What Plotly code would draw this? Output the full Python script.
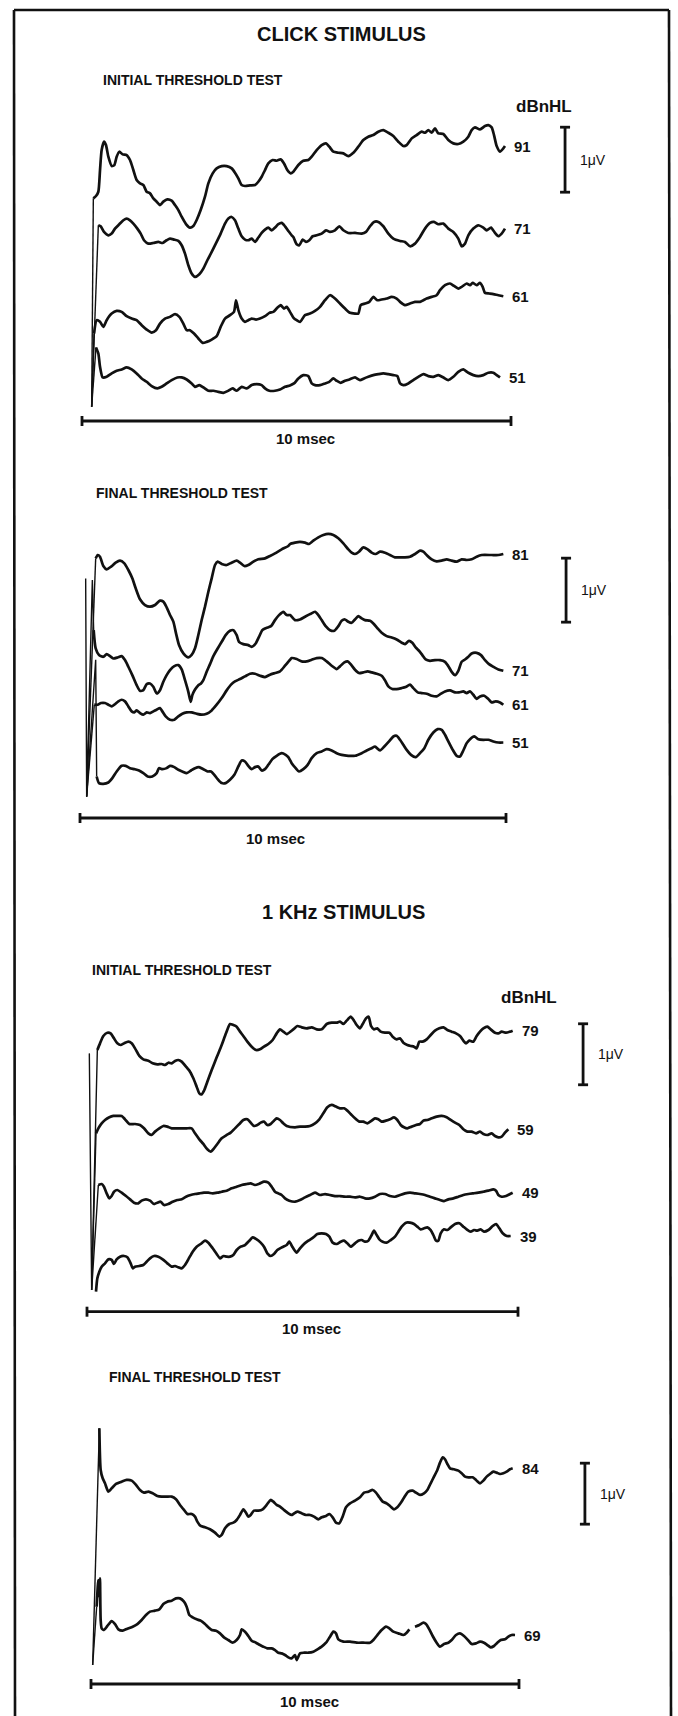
import plotly.graph_objects as go

# ---------------------------------------------------------------- data
# Each waveform: (time in msec, amplitude in microvolts relative to trace baseline)

# CLICK STIMULUS - INITIAL THRESHOLD TEST
click_init_levels = ["91", "71", "61", "51"]
click_init_offsets = [4.23, 2.96, 1.92, 0.67]
click_init_art = [1, 1, 1, 1]
click_init_91 = [(0.225,-4.01),(0.264,-0.805),(0.326,-0.769),(0.381,-0.703),(0.420,-0.369),(0.458,-0.062),(0.513,0.067),(0.559,0.015),(0.614,-0.164),(0.692,-0.308),(0.754,-0.292),(0.808,-0.164),(0.870,-0.087),(0.948,-0.128),(1.041,-0.138),(1.119,-0.215),(1.197,-0.369),(1.274,-0.523),(1.352,-0.574),(1.430,-0.600),(1.507,-0.703),(1.585,-0.728),(1.663,-0.805),(1.740,-0.856),(1.818,-0.908),(1.896,-0.856),(1.989,-0.821),(2.090,-0.841),(2.168,-0.908),(2.246,-0.985),(2.323,-1.087),(2.424,-1.200),(2.517,-1.256),(2.595,-1.231),(2.673,-1.138),(2.766,-0.985),(2.867,-0.779),(2.945,-0.574),(3.046,-0.421),(3.139,-0.344),(3.256,-0.308),(3.372,-0.308),(3.489,-0.344),(3.566,-0.410),(3.644,-0.497),(3.722,-0.600),(3.800,-0.615),(3.916,-0.605),(4.033,-0.600),(4.110,-0.549),(4.188,-0.472),(4.266,-0.369),(4.343,-0.267),(4.444,-0.215),(4.538,-0.226),(4.631,-0.205),(4.709,-0.267),(4.786,-0.369),(4.864,-0.421),(4.926,-0.395),(5.043,-0.292),(5.159,-0.226),(5.276,-0.215),(5.354,-0.164),(5.470,-0.062),(5.587,0.015),(5.688,0.041),(5.765,-0.010),(5.859,-0.087),(5.975,-0.103),(6.092,-0.113),(6.208,-0.154),(6.325,-0.103),(6.441,-0.010),(6.558,0.092),(6.674,0.144),(6.791,0.169),(6.907,0.221),(7.024,0.246),(7.141,0.205),(7.257,0.154),(7.374,0.067),(7.490,0.000),(7.568,0.015),(7.685,0.118),(7.801,0.169),(7.918,0.221),(7.995,0.205),(8.073,0.246),(8.151,0.205),(8.228,0.272),(8.306,0.195),(8.423,0.185),(8.539,0.092),(8.656,0.041),(8.772,0.031),(8.889,0.067),(9.005,0.144),(9.083,0.246),(9.161,0.287),(9.277,0.256),(9.394,0.308),(9.471,0.323),(9.549,0.287),(9.604,0.169),(9.666,0.000),(9.744,-0.087),(9.821,-0.036),(9.860,0.000)]
click_init_71 = [(0.225,-2.74),(0.381,0.051),(0.435,0.036),(0.513,-0.051),(0.614,-0.103),(0.692,-0.077),(0.769,0.0),(0.870,0.067),(0.964,0.128),(1.041,0.154),(1.119,0.128),(1.197,0.077),(1.290,0.0),(1.368,-0.077),(1.445,-0.179),(1.546,-0.231),(1.663,-0.221),(1.779,-0.205),(1.880,-0.221),(1.974,-0.179),(2.051,-0.154),(2.145,-0.169),(2.246,-0.190),(2.323,-0.256),(2.401,-0.385),(2.479,-0.564),(2.556,-0.692),(2.634,-0.744),(2.735,-0.703),(2.828,-0.615),(2.922,-0.487),(3.023,-0.359),(3.139,-0.205),(3.232,-0.077),(3.333,0.077),(3.411,0.154),(3.489,0.179),(3.566,0.128),(3.644,0.0),(3.722,-0.118),(3.800,-0.169),(3.877,-0.179),(3.955,-0.154),(4.033,-0.205),(4.110,-0.138),(4.188,-0.067),(4.266,-0.015),(4.343,0.015),(4.421,-0.026),(4.499,0.015),(4.577,0.067),(4.654,0.087),(4.732,0.036),(4.810,-0.036),(4.887,-0.103),(4.926,-0.128),(5.004,-0.241),(5.066,-0.256),(5.144,-0.169),(5.222,-0.205),(5.299,-0.179),(5.377,-0.118),(5.470,-0.103),(5.587,-0.077),(5.688,-0.026),(5.781,-0.051),(5.897,-0.026),(5.998,0.036),(6.092,-0.026),(6.208,-0.067),(6.364,-0.067),(6.519,-0.077),(6.620,-0.051),(6.713,0.036),(6.807,0.103),(6.908,0.103),(7.024,0.036),(7.141,-0.077),(7.257,-0.154),(7.413,-0.190),(7.529,-0.205),(7.646,-0.272),(7.762,-0.231),(7.879,-0.128),(7.995,0.0),(8.112,0.087),(8.205,0.103),(8.306,0.067),(8.423,0.077),(8.539,0.0),(8.656,-0.051),(8.772,-0.154),(8.850,-0.272),(8.928,-0.231),(9.005,-0.103),(9.122,0.0),(9.238,0.051),(9.355,0.015),(9.433,-0.026),(9.534,0.015),(9.627,-0.067),(9.705,-0.118),(9.782,-0.077),(9.860,0.0)]
click_init_61 = [(0.225,-1.703),(0.280,-0.574),(0.342,-0.369),(0.420,-0.395),(0.497,-0.472),(0.575,-0.369),(0.692,-0.267),(0.808,-0.226),(0.925,-0.241),(1.041,-0.308),(1.158,-0.344),(1.274,-0.369),(1.391,-0.446),(1.507,-0.513),(1.624,-0.559),(1.725,-0.523),(1.818,-0.421),(1.935,-0.344),(2.051,-0.318),(2.168,-0.277),(2.269,-0.318),(2.362,-0.421),(2.440,-0.523),(2.517,-0.523),(2.611,-0.574),(2.712,-0.651),(2.813,-0.718),(2.906,-0.703),(3.023,-0.667),(3.139,-0.615),(3.232,-0.472),(3.333,-0.344),(3.450,-0.292),(3.543,-0.241),(3.590,-0.062),(3.644,-0.215),(3.722,-0.344),(3.800,-0.395),(3.877,-0.369),(3.955,-0.344),(4.056,-0.359),(4.149,-0.344),(4.266,-0.308),(4.367,-0.256),(4.460,-0.241),(4.553,-0.179),(4.631,-0.138),(4.709,-0.190),(4.771,-0.164),(4.848,-0.241),(4.926,-0.328),(5.004,-0.369),(5.082,-0.395),(5.198,-0.292),(5.315,-0.267),(5.431,-0.226),(5.548,-0.164),(5.664,-0.062),(5.781,0.015),(5.897,-0.036),(6.014,-0.113),(6.131,-0.190),(6.247,-0.256),(6.364,-0.267),(6.441,-0.267),(6.496,-0.138),(6.597,-0.113),(6.698,-0.087),(6.791,-0.010),(6.884,-0.062),(6.985,-0.051),(7.102,-0.036),(7.218,-0.010),(7.335,-0.036),(7.413,-0.087),(7.529,-0.138),(7.646,-0.113),(7.762,-0.087),(7.879,-0.087),(7.957,-0.062),(8.034,-0.036),(8.151,-0.010),(8.267,0.015),(8.345,0.092),(8.462,0.169),(8.578,0.195),(8.671,0.159),(8.772,0.118),(8.850,0.144),(8.967,0.195),(9.044,0.169),(9.106,0.205),(9.200,0.169),(9.277,0.205),(9.340,0.144),(9.394,0.051),(9.495,0.041),(9.588,0.031),(9.705,0.015),(9.821,0.000)]
click_init_51 = [(0.225,-0.451),(0.326,0.462),(0.381,0.369),(0.420,0.164),(0.482,0.000),(0.575,0.010),(0.692,0.062),(0.808,0.103),(0.925,0.123),(1.041,0.154),(1.158,0.123),(1.274,0.062),(1.391,-0.015),(1.507,-0.067),(1.624,-0.133),(1.756,-0.169),(1.857,-0.144),(1.974,-0.092),(2.090,-0.041),(2.222,0.000),(2.323,0.000),(2.440,-0.031),(2.556,-0.092),(2.634,-0.144),(2.735,-0.118),(2.828,-0.154),(2.945,-0.205),(3.062,-0.205),(3.178,-0.221),(3.295,-0.236),(3.411,-0.205),(3.512,-0.169),(3.605,-0.205),(3.722,-0.144),(3.838,-0.169),(3.955,-0.118),(4.071,-0.103),(4.188,-0.118),(4.266,-0.169),(4.367,-0.205),(4.499,-0.205),(4.615,-0.185),(4.732,-0.144),(4.848,-0.123),(4.942,-0.092),(5.043,-0.015),(5.159,0.036),(5.276,0.021),(5.354,-0.092),(5.431,-0.118),(5.548,-0.118),(5.664,-0.092),(5.765,-0.067),(5.859,-0.015),(5.936,-0.051),(6.030,-0.082),(6.131,-0.051),(6.232,-0.031),(6.364,0.000),(6.480,-0.041),(6.574,-0.015),(6.674,0.010),(6.791,0.036),(6.907,0.051),(7.024,0.062),(7.141,0.051),(7.257,0.036),(7.351,0.021),(7.413,-0.092),(7.490,-0.118),(7.607,-0.092),(7.724,-0.041),(7.840,0.010),(7.957,0.051),(8.073,0.021),(8.190,0.010),(8.306,0.036),(8.423,0.000),(8.539,-0.041),(8.656,0.010),(8.772,0.087),(8.889,0.123),(9.005,0.072),(9.122,0.036),(9.238,0.021),(9.355,0.036),(9.471,0.072),(9.588,0.072),(9.666,0.036),(9.744,0.000)]

# CLICK STIMULUS - FINAL THRESHOLD TEST
click_final_levels = ["81", "71", "61", "51"]
click_final_offsets = [4.125, 2.30, 1.77, 1.18]
click_final_art = [1, 3, 1, 2]
click_final_81 = [(0.156,-3.792),(0.368,-0.068),(0.415,-0.016),(0.469,-0.042),(0.548,-0.188),(0.626,-0.240),(0.728,-0.198),(0.837,-0.135),(0.939,-0.104),(1.041,-0.146),(1.135,-0.250),(1.228,-0.380),(1.307,-0.536),(1.408,-0.708),(1.526,-0.797),(1.643,-0.823),(1.761,-0.797),(1.878,-0.729),(1.956,-0.745),(2.034,-0.833),(2.113,-0.953),(2.191,-1.057),(2.254,-1.240),(2.324,-1.422),(2.426,-1.552),(2.543,-1.615),(2.621,-1.578),(2.700,-1.474),(2.778,-1.266),(2.856,-1.031),(2.934,-0.823),(3.013,-0.589),(3.091,-0.380),(3.169,-0.172),(3.232,-0.120),(3.326,-0.156),(3.443,-0.172),(3.560,-0.135),(3.678,-0.104),(3.756,-0.135),(3.858,-0.188),(3.951,-0.172),(4.069,-0.120),(4.186,-0.083),(4.343,-0.068),(4.460,-0.031),(4.577,0.010),(4.734,0.073),(4.890,0.125),(4.930,0.156),(5.047,0.177),(5.164,0.188),(5.282,0.177),(5.376,0.156),(5.477,0.208),(5.595,0.260),(5.712,0.297),(5.829,0.313),(5.947,0.297),(6.064,0.245),(6.182,0.167),(6.299,0.073),(6.377,0.021),(6.455,0.000),(6.549,0.036),(6.651,0.104),(6.753,0.073),(6.847,0.021),(6.941,0.000),(7.042,0.036),(7.160,0.021),(7.277,-0.016),(7.394,-0.052),(7.512,-0.052),(7.629,-0.052),(7.746,-0.042),(7.864,0.000),(7.981,0.052),(8.059,0.036),(8.138,-0.016),(8.255,-0.083),(8.372,-0.115),(8.490,-0.104),(8.607,-0.083),(8.725,-0.104),(8.842,-0.120),(8.959,-0.083),(9.077,-0.094),(9.194,-0.083),(9.311,-0.042),(9.429,-0.016),(9.663,-0.016),(9.820,-0.016),(9.937,0.000)]
click_final_71 = [(0.133,1.443),(0.156,-1.969),(0.290,1.417),(0.321,0.635),(0.368,0.349),(0.446,0.245),(0.548,0.219),(0.626,0.260),(0.704,0.229),(0.782,0.193),(0.884,0.208),(0.978,0.229),(1.056,0.167),(1.135,0.063),(1.228,-0.068),(1.330,-0.224),(1.408,-0.313),(1.487,-0.302),(1.565,-0.208),(1.643,-0.198),(1.721,-0.250),(1.800,-0.354),(1.878,-0.302),(1.956,-0.172),(2.034,-0.068),(2.113,0.010),(2.214,0.073),(2.308,0.089),(2.387,0.021),(2.465,-0.146),(2.543,-0.328),(2.598,-0.484),(2.637,-0.380),(2.700,-0.292),(2.778,-0.224),(2.840,-0.198),(2.895,-0.146),(2.973,-0.016),(3.052,0.104),(3.130,0.229),(3.232,0.349),(3.326,0.453),(3.419,0.557),(3.521,0.625),(3.599,0.635),(3.678,0.557),(3.732,0.453),(3.834,0.417),(3.951,0.401),(4.030,0.375),(4.124,0.427),(4.202,0.531),(4.280,0.635),(4.343,0.661),(4.405,0.677),(4.484,0.698),(4.577,0.792),(4.671,0.870),(4.773,0.922),(4.851,0.870),(4.930,0.870),(5.047,0.792),(5.164,0.802),(5.282,0.844),(5.399,0.885),(5.517,0.922),(5.595,0.870),(5.673,0.792),(5.767,0.698),(5.869,0.635),(5.970,0.625),(6.064,0.698),(6.142,0.781),(6.221,0.802),(6.299,0.766),(6.377,0.750),(6.455,0.802),(6.534,0.854),(6.612,0.818),(6.690,0.792),(6.808,0.781),(6.886,0.740),(6.987,0.661),(7.081,0.594),(7.199,0.542),(7.316,0.521),(7.433,0.490),(7.551,0.438),(7.629,0.417),(7.723,0.469),(7.801,0.438),(7.879,0.365),(7.958,0.313),(8.036,0.245),(8.114,0.177),(8.216,0.156),(8.333,0.167),(8.451,0.167),(8.568,0.141),(8.646,0.073),(8.725,-0.016),(8.803,-0.068),(8.881,0.000),(8.959,0.141),(9.038,0.177),(9.116,0.219),(9.194,0.271),(9.311,0.281),(9.413,0.245),(9.507,0.167),(9.601,0.104),(9.703,0.063),(9.820,0.021),(9.937,0.000)]
click_final_61 = [(0.156,-1.432),(0.336,0.000),(0.415,0.000),(0.493,0.026),(0.587,0.026),(0.665,0.000),(0.743,-0.026),(0.806,0.000),(0.900,0.052),(0.978,0.078),(1.056,0.052),(1.135,-0.026),(1.213,-0.104),(1.275,-0.120),(1.330,-0.089),(1.408,-0.130),(1.487,-0.156),(1.565,-0.120),(1.643,-0.130),(1.721,-0.104),(1.800,-0.078),(1.878,-0.052),(1.933,-0.104),(2.011,-0.182),(2.113,-0.234),(2.214,-0.234),(2.308,-0.182),(2.402,-0.141),(2.504,-0.120),(2.621,-0.120),(2.739,-0.141),(2.856,-0.156),(2.973,-0.141),(3.091,-0.089),(3.208,0.000),(3.326,0.104),(3.443,0.224),(3.545,0.313),(3.638,0.365),(3.756,0.401),(3.873,0.443),(3.991,0.484),(4.108,0.484),(4.225,0.453),(4.343,0.432),(4.460,0.469),(4.577,0.495),(4.695,0.521),(4.812,0.609),(4.930,0.703),(4.969,0.729),(5.086,0.714),(5.203,0.677),(5.321,0.677),(5.438,0.703),(5.556,0.729),(5.673,0.729),(5.790,0.677),(5.908,0.609),(6.025,0.557),(6.103,0.599),(6.205,0.661),(6.283,0.677),(6.362,0.625),(6.455,0.547),(6.549,0.495),(6.651,0.505),(6.753,0.521),(6.847,0.505),(6.964,0.484),(7.081,0.453),(7.160,0.380),(7.238,0.286),(7.332,0.245),(7.433,0.245),(7.551,0.260),(7.645,0.276),(7.746,0.313),(7.825,0.260),(7.927,0.193),(8.020,0.182),(8.138,0.172),(8.255,0.141),(8.372,0.130),(8.474,0.172),(8.568,0.208),(8.685,0.224),(8.803,0.193),(8.897,0.193),(8.998,0.208),(9.077,0.182),(9.155,0.208),(9.233,0.156),(9.311,0.089),(9.390,0.130),(9.491,0.141),(9.585,0.089),(9.663,0.036),(9.757,0.052),(9.859,0.036),(9.937,0.000)]
click_final_51 = [(0.156,-0.844),(0.368,1.292),(0.391,-0.531),(0.446,-0.635),(0.548,-0.646),(0.665,-0.625),(0.759,-0.557),(0.861,-0.453),(0.978,-0.365),(1.072,-0.365),(1.174,-0.401),(1.275,-0.417),(1.385,-0.438),(1.487,-0.479),(1.588,-0.531),(1.698,-0.531),(1.800,-0.479),(1.854,-0.401),(1.933,-0.417),(2.034,-0.401),(2.113,-0.365),(2.214,-0.385),(2.308,-0.427),(2.402,-0.453),(2.504,-0.479),(2.606,-0.438),(2.700,-0.401),(2.793,-0.385),(2.895,-0.417),(2.997,-0.453),(3.075,-0.453),(3.153,-0.505),(3.232,-0.573),(3.326,-0.635),(3.419,-0.635),(3.521,-0.583),(3.623,-0.505),(3.717,-0.375),(3.795,-0.281),(3.873,-0.297),(3.951,-0.365),(4.030,-0.417),(4.108,-0.385),(4.186,-0.375),(4.264,-0.438),(4.343,-0.417),(4.421,-0.349),(4.515,-0.260),(4.617,-0.208),(4.734,-0.167),(4.828,-0.193),(4.890,-0.229),(4.969,-0.323),(5.063,-0.401),(5.141,-0.453),(5.243,-0.417),(5.344,-0.349),(5.438,-0.245),(5.556,-0.167),(5.673,-0.141),(5.790,-0.104),(5.908,-0.125),(6.025,-0.167),(6.143,-0.193),(6.299,-0.208),(6.455,-0.208),(6.612,-0.167),(6.729,-0.125),(6.847,-0.089),(6.925,-0.063),(7.042,-0.125),(7.144,-0.063),(7.254,0.016),(7.355,0.094),(7.433,0.104),(7.512,0.042),(7.590,-0.036),(7.668,-0.115),(7.770,-0.193),(7.879,-0.229),(7.981,-0.167),(8.083,-0.089),(8.177,0.042),(8.294,0.156),(8.396,0.208),(8.490,0.198),(8.568,0.120),(8.646,0.016),(8.740,-0.104),(8.842,-0.208),(8.920,-0.219),(8.998,-0.125),(9.077,-0.010),(9.155,0.052),(9.256,0.094),(9.350,0.052),(9.468,0.042),(9.585,0.042),(9.703,0.016),(9.820,0.000),(9.937,0.000)]

# 1 KHz STIMULUS - INITIAL THRESHOLD TEST
khz_init_levels = ["79", "59", "49", "39"]
khz_init_offsets = [4.607, 2.990, 1.951, 1.241]
khz_init_art = [2, 1, 1, 0]
khz_init_79 = [(0.054,-0.372),(0.108,-4.251),(0.240,-0.317),(0.302,-0.208),(0.379,-0.087),(0.472,-0.033),(0.549,-0.044),(0.626,-0.126),(0.704,-0.208),(0.781,-0.235),(0.858,-0.208),(0.959,-0.180),(1.036,-0.208),(1.114,-0.290),(1.214,-0.415),(1.307,-0.470),(1.423,-0.492),(1.524,-0.536),(1.632,-0.552),(1.732,-0.546),(1.810,-0.563),(1.887,-0.525),(1.964,-0.536),(2.042,-0.497),(2.119,-0.481),(2.196,-0.508),(2.297,-0.590),(2.390,-0.672),(2.467,-0.781),(2.544,-0.918),(2.606,-1.027),(2.660,-1.044),(2.715,-0.984),(2.792,-0.836),(2.893,-0.645),(3.009,-0.437),(3.125,-0.235),(3.225,-0.044),(3.318,0.109),(3.395,0.093),(3.473,0.066),(3.550,-0.016),(3.627,-0.087),(3.720,-0.180),(3.821,-0.262),(3.921,-0.317),(4.014,-0.306),(4.107,-0.262),(4.207,-0.219),(4.308,-0.153),(4.401,-0.044),(4.478,0.022),(4.555,-0.016),(4.633,-0.055),(4.787,0.022),(4.880,0.077),(4.981,0.055),(5.097,0.038),(5.213,0.055),(5.329,0.022),(5.445,0.022),(5.561,0.109),(5.677,0.131),(5.793,0.131),(5.870,0.148),(5.947,0.109),(6.025,0.164),(6.118,0.230),(6.195,0.164),(6.257,0.093),(6.334,0.038),(6.396,0.109),(6.473,0.202),(6.535,0.230),(6.589,0.077),(6.659,0.022),(6.736,0.038),(6.814,-0.016),(6.914,-0.033),(7.015,-0.033),(7.092,-0.098),(7.185,-0.142),(7.262,-0.126),(7.340,-0.197),(7.432,-0.235),(7.510,-0.251),(7.587,-0.262),(7.649,-0.290),(7.711,-0.180),(7.788,-0.180),(7.881,-0.142),(7.974,-0.071),(8.074,0.000),(8.175,0.038),(8.268,0.055),(8.361,0.011),(8.461,-0.016),(8.562,-0.044),(8.655,-0.087),(8.732,-0.164),(8.794,-0.208),(8.871,-0.164),(8.964,-0.180),(9.041,-0.087),(9.118,-0.016),(9.196,0.038),(9.288,0.066),(9.366,0.022),(9.466,-0.033),(9.544,-0.044),(9.621,-0.016),(9.722,-0.033),(9.815,-0.016),(9.876,0.000)]
khz_init_59 = [(0.108,-2.634),(0.209,-0.066),(0.263,0.016),(0.340,0.098),(0.418,0.153),(0.518,0.197),(0.611,0.219),(0.704,0.219),(0.804,0.219),(0.882,0.164),(0.982,0.087),(1.114,0.087),(1.230,0.071),(1.323,0.016),(1.423,-0.066),(1.500,-0.093),(1.578,-0.038),(1.678,0.016),(1.771,0.055),(1.864,0.044),(1.964,0.016),(2.080,0.016),(2.196,0.016),(2.312,0.016),(2.428,0.016),(2.506,-0.066),(2.606,-0.164),(2.699,-0.240),(2.792,-0.328),(2.869,-0.366),(2.947,-0.311),(3.024,-0.240),(3.125,-0.148),(3.241,-0.093),(3.333,-0.055),(3.434,0.016),(3.534,0.087),(3.627,0.153),(3.720,0.164),(3.797,0.109),(3.875,0.055),(3.952,0.071),(4.029,0.109),(4.107,0.126),(4.184,0.071),(4.261,0.087),(4.339,0.142),(4.401,0.180),(4.478,0.153),(4.555,0.098),(4.633,0.055),(4.826,0.033),(4.942,0.044),(5.058,0.044),(5.174,0.055),(5.290,0.098),(5.391,0.164),(5.483,0.262),(5.576,0.361),(5.677,0.399),(5.777,0.372),(5.870,0.344),(5.963,0.344),(6.040,0.306),(6.118,0.251),(6.218,0.180),(6.319,0.126),(6.412,0.126),(6.504,0.098),(6.605,0.142),(6.682,0.180),(6.760,0.164),(6.837,0.126),(6.937,0.142),(7.030,0.164),(7.123,0.197),(7.201,0.153),(7.278,0.071),(7.355,0.033),(7.432,0.016),(7.533,0.044),(7.633,0.071),(7.726,0.087),(7.804,0.142),(7.897,0.153),(7.997,0.180),(8.113,0.208),(8.229,0.219),(8.345,0.197),(8.438,0.153),(8.539,0.109),(8.639,0.071),(8.732,0.000),(8.825,-0.038),(8.925,-0.038),(9.026,-0.066),(9.118,-0.038),(9.196,-0.077),(9.288,-0.093),(9.389,-0.066),(9.466,-0.109),(9.544,-0.131),(9.621,-0.120),(9.698,-0.055),(9.776,0.000)]
khz_init_49 = [(0.108,-1.596),(0.263,0.126),(0.340,0.142),(0.394,0.098),(0.456,-0.011),(0.518,-0.093),(0.572,-0.055),(0.626,0.016),(0.704,0.044),(0.804,0.000),(0.905,-0.055),(0.998,-0.109),(1.090,-0.164),(1.191,-0.175),(1.268,-0.131),(1.369,-0.109),(1.462,-0.131),(1.555,-0.186),(1.632,-0.164),(1.709,-0.148),(1.787,-0.202),(1.887,-0.186),(1.988,-0.148),(2.096,-0.120),(2.196,-0.109),(2.297,-0.066),(2.405,-0.038),(2.506,-0.022),(2.606,-0.011),(2.715,0.000),(2.815,0.000),(2.916,-0.011),(3.024,0.000),(3.125,0.016),(3.241,0.033),(3.357,0.071),(3.473,0.098),(3.589,0.126),(3.705,0.142),(3.797,0.153),(3.898,0.126),(4.014,0.153),(4.107,0.180),(4.207,0.164),(4.285,0.098),(4.362,0.016),(4.439,-0.011),(4.517,-0.038),(4.594,-0.093),(4.694,-0.131),(4.826,-0.148),(4.942,-0.120),(5.058,-0.077),(5.174,-0.038),(5.290,0.000),(5.406,-0.038),(5.522,-0.022),(5.638,-0.038),(5.754,-0.055),(5.870,-0.055),(5.986,-0.066),(6.102,-0.066),(6.218,-0.077),(6.334,-0.066),(6.450,-0.093),(6.566,-0.093),(6.682,-0.066),(6.798,-0.022),(6.914,-0.022),(7.030,-0.055),(7.146,-0.066),(7.262,-0.038),(7.378,-0.011),(7.494,0.000),(7.610,-0.011),(7.726,-0.022),(7.842,-0.038),(7.958,-0.066),(8.074,-0.093),(8.190,-0.120),(8.283,-0.137),(8.384,-0.109),(8.500,-0.093),(8.616,-0.066),(8.732,-0.038),(8.848,-0.022),(8.964,-0.011),(9.080,0.000),(9.196,0.016),(9.312,0.033),(9.428,0.055),(9.490,0.033),(9.544,-0.038),(9.621,-0.066),(9.722,-0.055),(9.815,-0.022),(9.876,0.000)]
khz_init_39 = [(0.209,-0.913),(0.240,-0.694),(0.286,-0.585),(0.340,-0.503),(0.418,-0.448),(0.495,-0.383),(0.572,-0.393),(0.626,-0.459),(0.688,-0.383),(0.766,-0.339),(0.858,-0.328),(0.936,-0.350),(1.013,-0.448),(1.060,-0.530),(1.114,-0.503),(1.214,-0.492),(1.307,-0.475),(1.384,-0.421),(1.462,-0.366),(1.555,-0.328),(1.655,-0.339),(1.756,-0.383),(1.864,-0.448),(1.964,-0.503),(2.042,-0.492),(2.119,-0.514),(2.196,-0.530),(2.274,-0.475),(2.351,-0.383),(2.452,-0.257),(2.544,-0.175),(2.637,-0.131),(2.738,-0.077),(2.815,-0.109),(2.916,-0.202),(3.009,-0.295),(3.086,-0.366),(3.163,-0.328),(3.241,-0.339),(3.318,-0.339),(3.395,-0.311),(3.473,-0.230),(3.565,-0.175),(3.666,-0.148),(3.766,-0.077),(3.844,-0.022),(3.937,-0.055),(4.029,-0.109),(4.107,-0.175),(4.184,-0.284),(4.261,-0.328),(4.339,-0.295),(4.416,-0.230),(4.478,-0.202),(4.555,-0.175),(4.633,-0.148),(4.694,-0.093),(4.772,-0.186),(4.865,-0.273),(4.942,-0.202),(5.035,-0.131),(5.135,-0.077),(5.251,-0.022),(5.344,0.033),(5.445,0.044),(5.545,0.033),(5.623,-0.011),(5.700,-0.109),(5.793,-0.131),(5.886,-0.093),(5.963,-0.077),(6.040,-0.120),(6.118,-0.175),(6.218,-0.120),(6.295,-0.077),(6.373,-0.066),(6.450,-0.093),(6.528,-0.077),(6.605,0.016),(6.659,0.087),(6.721,0.016),(6.783,-0.055),(6.860,-0.093),(6.953,-0.109),(7.046,-0.066),(7.146,-0.011),(7.224,0.071),(7.301,0.153),(7.402,0.219),(7.494,0.219),(7.587,0.197),(7.664,0.153),(7.742,0.109),(7.819,0.126),(7.897,0.142),(7.974,0.098),(8.036,0.016),(8.098,-0.077),(8.152,-0.077),(8.206,0.044),(8.283,0.109),(8.361,0.098),(8.438,0.142),(8.539,0.197),(8.639,0.208),(8.732,0.153),(8.809,0.109),(8.902,0.071),(8.979,0.098),(9.057,0.087),(9.134,0.109),(9.211,0.071),(9.312,0.098),(9.413,0.164),(9.490,0.197),(9.567,0.126),(9.645,0.044),(9.738,0.000),(9.830,0.000)]

# 1 KHz STIMULUS - FINAL THRESHOLD TEST
khz_final_levels = ["84", "69"]
khz_final_offsets = [3.536, 0.803]
khz_final_art = [1, 1]
khz_final_84 = [(0.039,-3.224),(0.195,0.656),(0.226,-0.027),(0.273,-0.164),(0.327,-0.246),(0.405,-0.383),(0.483,-0.328),(0.584,-0.257),(0.717,-0.219),(0.833,-0.191),(0.950,-0.202),(1.051,-0.273),(1.145,-0.355),(1.238,-0.399),(1.340,-0.383),(1.441,-0.410),(1.550,-0.454),(1.651,-0.464),(1.768,-0.464),(1.885,-0.464),(1.986,-0.508),(2.079,-0.601),(2.173,-0.683),(2.251,-0.749),(2.352,-0.749),(2.430,-0.792),(2.484,-0.874),(2.562,-0.945),(2.664,-0.967),(2.780,-1.000),(2.897,-1.055),(2.998,-1.120),(3.053,-1.093),(3.131,-0.984),(3.232,-0.913),(3.326,-0.891),(3.403,-0.847),(3.481,-0.765),(3.559,-0.672),(3.621,-0.727),(3.676,-0.792),(3.731,-0.765),(3.808,-0.694),(3.910,-0.694),(4.011,-0.672),(4.104,-0.601),(4.198,-0.519),(4.260,-0.546),(4.338,-0.601),(4.416,-0.628),(4.509,-0.683),(4.611,-0.738),(4.688,-0.765),(4.727,-0.749),(4.821,-0.710),(4.922,-0.738),(5.023,-0.765),(5.117,-0.765),(5.210,-0.792),(5.312,-0.836),(5.389,-0.803),(5.491,-0.781),(5.569,-0.749),(5.646,-0.803),(5.724,-0.891),(5.802,-0.902),(5.880,-0.792),(5.958,-0.639),(6.051,-0.574),(6.168,-0.530),(6.285,-0.475),(6.379,-0.399),(6.480,-0.383),(6.581,-0.355),(6.659,-0.399),(6.737,-0.475),(6.815,-0.546),(6.908,-0.574),(6.986,-0.617),(7.079,-0.672),(7.157,-0.639),(7.259,-0.546),(7.336,-0.454),(7.414,-0.383),(7.516,-0.366),(7.593,-0.399),(7.687,-0.437),(7.780,-0.410),(7.858,-0.355),(7.936,-0.246),(8.014,-0.137),(8.092,-0.027),(8.154,0.093),(8.217,0.180),(8.271,0.148),(8.326,0.071),(8.388,0.000),(8.481,-0.016),(8.583,-0.038),(8.660,-0.082),(8.738,-0.137),(8.816,-0.148),(8.917,-0.148),(8.995,-0.191),(9.089,-0.246),(9.167,-0.202),(9.245,-0.137),(9.322,-0.093),(9.400,-0.055),(9.478,-0.071),(9.556,-0.093),(9.634,-0.082),(9.712,-0.055),(9.790,-0.016),(9.852,0.000)]
khz_final_69 = [(0.039,-0.492),(0.132,0.464),(0.171,0.902),(0.195,0.628),(0.210,0.929),(0.226,0.246),(0.249,0.109),(0.304,0.082),(0.382,0.148),(0.483,0.230),(0.561,0.180),(0.639,0.093),(0.740,0.071),(0.849,0.104),(0.974,0.137),(1.083,0.180),(1.184,0.246),(1.285,0.328),(1.379,0.383),(1.495,0.399),(1.597,0.421),(1.690,0.508),(1.783,0.546),(1.885,0.563),(1.986,0.601),(2.079,0.601),(2.173,0.546),(2.235,0.464),(2.298,0.328),(2.375,0.290),(2.469,0.257),(2.562,0.235),(2.664,0.180),(2.741,0.126),(2.819,0.082),(2.921,0.071),(3.014,0.027),(3.107,-0.038),(3.209,-0.082),(3.310,-0.126),(3.403,-0.082),(3.481,0.000),(3.520,0.093),(3.598,0.055),(3.676,-0.016),(3.754,-0.093),(3.855,-0.126),(3.949,-0.164),(4.026,-0.191),(4.120,-0.219),(4.221,-0.219),(4.299,-0.246),(4.377,-0.290),(4.455,-0.301),(4.533,-0.328),(4.611,-0.366),(4.688,-0.383),(4.766,-0.328),(4.805,-0.410),(4.883,-0.301),(4.977,-0.290),(5.078,-0.290),(5.195,-0.273),(5.288,-0.235),(5.389,-0.191),(5.491,-0.126),(5.584,-0.027),(5.662,0.055),(5.724,0.027),(5.779,-0.071),(5.896,-0.109),(6.051,-0.109),(6.207,-0.126),(6.363,-0.126),(6.519,-0.126),(6.597,-0.082),(6.690,0.000),(6.791,0.082),(6.893,0.137),(6.970,0.109),(7.064,0.055),(7.181,0.027),(7.298,0.000),(7.375,0.038),(7.438,0.093),(None,None),(7.570,0.137),(7.671,0.164),(7.765,0.202),(7.827,0.180),(7.905,0.093),(7.983,-0.016),(8.076,-0.126),(8.154,-0.191),(8.248,-0.148),(8.349,-0.126),(8.427,-0.082),(8.528,0.000),(8.621,0.027),(8.715,-0.016),(8.793,-0.071),(8.894,-0.148),(8.995,-0.137),(9.089,-0.109),(9.182,-0.126),(9.260,-0.164),(9.338,-0.202),(9.416,-0.180),(9.494,-0.126),(9.572,-0.082),(9.673,-0.071),(9.751,-0.027),(9.829,0.000),(9.907,0.000)]

panel_waves = [
    [click_init_91, click_init_71, click_init_61, click_init_51],
    [click_final_81, click_final_71, click_final_61, click_final_51],
    [khz_init_79, khz_init_59, khz_init_49, khz_init_39],
    [khz_final_84, khz_final_69],
]
panel_levels = [click_init_levels, click_final_levels, khz_init_levels, khz_final_levels]
panel_offsets = [click_init_offsets, click_final_offsets, khz_init_offsets, khz_final_offsets]
panel_art = [click_init_art, click_final_art, khz_init_art, khz_final_art]

time_bar_ms = 10            # length of the time calibration bar
amp_bar_uv = 1              # length of the amplitude calibration bar
amp_bar_t = [11.26, 11.41, 11.51, 11.54]
amp_bar_v0 = [3.52, 3.06, 3.72, 2.62]
msec_label_t = [5.2, 4.6, 5.2, 5.1]

# ---------------------------------------------------------------- layout geometry (pixels)
W, H = 678, 1716
# top, bottom, zero-line, px per uV, x of t=0, px per ms
panel_geom = [
    (86, 446, 421.0, 65, 82, 42.9),
    (498, 850, 818.0, 64, 80, 42.6),
    (996, 1340, 1311.7, 61, 87, 43.1),
    (1398, 1716, 1684.0, 61, 91, 42.8),
]
msec_shift = [-17, -20, -17, -17]

FONT = "Liberation Sans, Arial, sans-serif"
INK = "#111111"

fig = go.Figure()
layout_axes = {}
shapes = []
annotations = []

for i, (top, bot, zero, ppu, x0px, ppm) in enumerate(panel_geom):
    n = "" if i == 0 else str(i + 1)
    xa, ya = "x" + n, "y" + n
    layout_axes["xaxis" + n] = dict(domain=[0, 1], range=[-x0px / ppm, (W - x0px) / ppm],
                                   visible=False, fixedrange=True, anchor=ya)
    layout_axes["yaxis" + n] = dict(domain=[1 - bot / H, 1 - top / H],
                                   range=[(zero - bot) / ppu, (zero - top) / ppu],
                                   visible=False, fixedrange=True, anchor=xa)

    for wave, lvl, off, art in zip(panel_waves[i], panel_levels[i], panel_offsets[i], panel_art[i]):
        ts = [p[0] for p in wave]
        vs = [None if p[1] is None else p[1] + off for p in wave]
        if art > 0:
            fig.add_trace(go.Scatter(x=ts[:art + 1], y=vs[:art + 1], mode="lines",
                                     line=dict(color=INK, width=1.4),
                                     xaxis=xa, yaxis=ya, showlegend=False, hoverinfo="skip"))
        fig.add_trace(go.Scatter(x=ts[art:], y=vs[art:], mode="lines",
                                 line=dict(color=INK, width=2.7, shape="spline", smoothing=0.6),
                                 xaxis=xa, yaxis=ya, showlegend=False, hoverinfo="skip"))
        annotations.append(dict(x=ts[-1], y=vs[-1], xref=xa, yref=ya, text="<b>" + lvl + "</b>",
                                showarrow=False, xanchor="left", yanchor="middle", xshift=7,
                                font=dict(family=FONT, size=15, color=INK)))

    # time calibration bar
    tick = 5 / ppu
    shapes.append(dict(type="line", xref=xa, yref=ya, x0=0, x1=time_bar_ms, y0=0, y1=0,
                       line=dict(color=INK, width=2.8)))
    for tx in (0, time_bar_ms):
        shapes.append(dict(type="line", xref=xa, yref=ya, x0=tx, x1=tx, y0=-tick, y1=tick,
                           line=dict(color=INK, width=2.8)))
    annotations.append(dict(x=msec_label_t[i], y=0, xref=xa, yref=ya, text="<b>10 msec</b>",
                            showarrow=False, xanchor="center", yanchor="middle", yshift=msec_shift[i],
                            font=dict(family=FONT, size=15, color=INK)))

    # amplitude calibration bar
    cap = 5 / ppm
    bt, bv = amp_bar_t[i], amp_bar_v0[i]
    shapes.append(dict(type="line", xref=xa, yref=ya, x0=bt, x1=bt, y0=bv, y1=bv + amp_bar_uv,
                       line=dict(color=INK, width=2.8)))
    for yy in (bv, bv + amp_bar_uv):
        shapes.append(dict(type="line", xref=xa, yref=ya, x0=bt - cap, x1=bt + cap, y0=yy, y1=yy,
                           line=dict(color=INK, width=2.8)))
    annotations.append(dict(x=bt, y=bv + amp_bar_uv / 2, xref=xa, yref=ya, text="1\u03bcV",
                            showarrow=False, xanchor="left", yanchor="middle", xshift=13,
                            font=dict(family=FONT, size=14, color=INK)))

# texts in page coordinates
def ptext(txt, x, y, size, anchor="left"):
    annotations.append(dict(x=x / W, y=1 - y / H, xref="paper", yref="paper", text=txt,
                            showarrow=False, xanchor=anchor, yanchor="middle",
                            font=dict(family=FONT, size=size, color=INK)))

ptext("<b>CLICK STIMULUS</b>", 341, 34, 20, "center")
ptext("<b>INITIAL THRESHOLD TEST</b>", 101, 80, 14)
ptext("<b>dBnHL</b>", 514, 107, 17)
ptext("<b>FINAL THRESHOLD TEST</b>", 94, 493, 14)
ptext("<b>1 KHz STIMULUS</b>", 343, 912, 20, "center")
ptext("<b>INITIAL THRESHOLD TEST</b>", 90, 970, 14)
ptext("<b>dBnHL</b>", 499, 997, 17)
ptext("<b>FINAL THRESHOLD TEST</b>", 107, 1377, 14)

# page frame
for (xa0, ya0, xa1, ya1) in [(14, 10, 669, 10), (14, 10, 15, 1716), (669, 10, 671, 1716)]:
    shapes.append(dict(type="line", xref="paper", yref="paper",
                       x0=xa0 / W, y0=1 - ya0 / H, x1=xa1 / W, y1=1 - ya1 / H,
                       line=dict(color=INK, width=2.6)))

fig.update_layout(width=W, height=H, margin=dict(l=0, r=0, t=0, b=0),
                  paper_bgcolor="white", plot_bgcolor="white",
                  shapes=shapes, annotations=annotations, **layout_axes)
fig.write_html("out.html")
